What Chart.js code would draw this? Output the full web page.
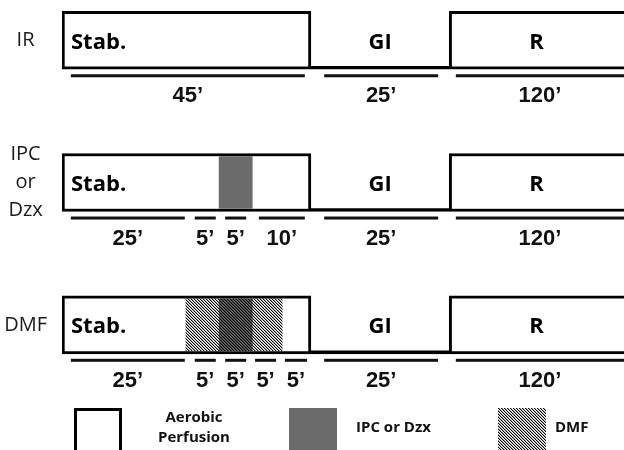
<!DOCTYPE html>
<html>
<head>
<meta charset="utf-8">
<script src="https://cdn.jsdelivr.net/npm/chart.js@4.4.1/dist/chart.umd.min.js"></script>
<style>
  html, body { margin: 0; padding: 0; background: #fff; }
  #protocol { display: block; }
</style>
</head>
<body>
<canvas id="protocol" width="624" height="450"></canvas>
<script>
// ---------- DATA ----------
const groups = [['IR'], ['IPC', 'or', 'Dzx'], ['DMF']];

const phaseNames = ['Stab.', 'GI', 'R'];
const phaseStart = [0, 45, 70];          // minutes
const phaseEnd = [45, 70, 190];
const phasePerfused = [true, false, true]; // GI = no flow

// treatment windows (minutes), null = none for that group
const greyWindow = [null, [28.4, 34.4], [28.4, 34.4]];
const dmfWindow = [null, null, [22.4, 39.8]];

// duration bars under each protocol, as drawn (minutes)
const segStart = [
  [1.6, 47.4, 71.2],
  [1.6, 24.0, 29.5, 35.6, 47.4, 71.2],
  [1.6, 24.0, 29.5, 34.9, 40.3, 47.4, 71.2]
];
const segEnd = [
  [43.9, 68.0, 190],
  [22.2, 27.8, 33.3, 43.9, 68.0, 190],
  [22.2, 27.8, 33.3, 38.7, 44.3, 68.0, 190]
];
const segMinutes = [
  [45, 25, 120],
  [25, 5, 5, 10, 25, 120],
  [25, 5, 5, 5, 5, 25, 120]
];

const legendLabels = [['Aerobic', 'Perfusion'], ['IPC or Dzx'], ['DMF']];

// ---------- STYLE ----------
const GREY = '#6b6b6b';
const BOX_H = 58;
const EDGE = 3;

// diagonal hatch, lines only (transparent between)
function makeHatch() {
  const c = document.createElement('canvas');
  c.width = 3; c.height = 3;
  const g = c.getContext('2d');
  const img = g.createImageData(3, 3);
  for (let py = 0; py < 3; py++) {
    for (let px = 0; px < 3; px++) {
      const d = ((px - py) % 3 + 3) % 3;
      const i = (py * 3 + px) * 4;
      img.data[i + 3] = d === 0 ? 255 : (d === 1 ? 90 : 0);
    }
  }
  g.putImageData(img, 0, 0);
  return g.createPattern(c, 'repeat');
}
const hatch = makeHatch();

// ---------- DATASETS ----------
const boxData = [];
const openData = [];
groups.forEach((_, g) => {
  phaseNames.forEach((_, p) => {
    const item = { x: [phaseStart[p], phaseEnd[p]], y: g };
    (phasePerfused[p] ? boxData : openData).push(item);
  });
});
const greyData = [];
const dmfData = [];
groups.forEach((_, g) => {
  if (greyWindow[g]) greyData.push({ x: greyWindow[g], y: g });
  if (dmfWindow[g]) dmfData.push({ x: dmfWindow[g], y: g });
});

// ---------- TEXT / SEGMENTS ----------
function drawLegend(ctx) {
  const top = 408, size = 48;
  ctx.fillStyle = '#fff';
  ctx.fillRect(74, top, size, size);
  ctx.lineWidth = EDGE;
  ctx.strokeStyle = '#000';
  ctx.strokeRect(75.5, top + 1.5, size - 3, size);

  ctx.fillStyle = GREY;
  ctx.fillRect(289, top, size, size);

  ctx.fillStyle = '#fff';
  ctx.fillRect(498, top, size, size);
  ctx.fillStyle = hatch;
  ctx.fillRect(498, top, size, size);

  ctx.fillStyle = '#111';
  ctx.font = 'bold 15px "Open Sans"';
  ctx.textBaseline = 'middle';
  ctx.textAlign = 'center';
  ctx.fillText(legendLabels[0][0], 194, 418);
  ctx.fillText(legendLabels[0][1], 194, 438);
  ctx.textAlign = 'left';
  ctx.fillText(legendLabels[1][0], 356, 428);
  ctx.fillText(legendLabels[2][0], 555, 428);
}

const protocolText = {
  id: 'protocolText',
  afterDatasetsDraw(chart) {
    const { ctx, scales: { x, y } } = chart;
    ctx.save();
    ctx.textBaseline = 'middle';
    groups.forEach((_, g) => {
      const yc = y.getPixelForValue(g);

      ctx.font = 'bold 22px "Open Sans"';
      ctx.fillStyle = '#000';
      phaseNames.forEach((name, p) => {
        const l = x.getPixelForValue(phaseStart[p]);
        const r = Math.min(x.getPixelForValue(phaseEnd[p]), x.right);
        if (p === 0) {
          ctx.textAlign = 'left';
          ctx.fillText(name, l + 9, yc + 2);
        } else {
          ctx.textAlign = 'center';
          ctx.fillText(name, (l + r) / 2, yc + 2);
        }
      });

      ctx.fillStyle = '#111';
      ctx.font = 'bold 22px "Liberation Sans"';
      ctx.textAlign = 'center';
      segStart[g].forEach((s, k) => {
        const l = x.getPixelForValue(s);
        const r = Math.min(x.getPixelForValue(segEnd[g][k]), x.right);
        ctx.fillRect(l, yc + 34, r - l, 3);
        ctx.fillText(segMinutes[g][k] + '\u2019', (l + r) / 2, yc + 56);
      });
    });
    drawLegend(ctx);
    ctx.restore();
  }
};

// ---------- CHART ----------
const common = { grouped: false, borderSkipped: false };

new Chart(document.getElementById('protocol'), {
  type: 'bar',
  data: {
    datasets: [
      { ...common, label: 'Aerobic perfusion', data: boxData, order: 3,
        backgroundColor: '#fff', borderColor: '#000', borderWidth: EDGE, barThickness: BOX_H },
      { ...common, label: 'Global ischemia', data: openData, order: 3,
        backgroundColor: 'rgba(0,0,0,0)', borderColor: '#000',
        borderWidth: { top: 0, right: 0, bottom: EDGE, left: 0 }, barThickness: BOX_H },
      { ...common, label: 'IPC or Dzx', data: greyData, order: 2,
        backgroundColor: GREY, borderWidth: 0, barThickness: BOX_H - 2 * EDGE },
      { ...common, label: 'DMF', data: dmfData, order: 1,
        backgroundColor: hatch, borderWidth: 0, barThickness: BOX_H - 2 * EDGE }
    ]
  },
  options: {
    indexAxis: 'y',
    responsive: false,
    devicePixelRatio: 1,
    animation: false,
    layout: { padding: 0 },
    plugins: { legend: { display: false }, tooltip: { enabled: false } },
    scales: {
      x: { type: 'linear', display: false, min: 0, max: 101.6 },
      y: {
        type: 'linear',
        offset: false,
        reverse: true,
        min: -0.283,
        max: 2.88,
        grid: { display: false, offset: false },
        border: { display: false },
        afterBuildTicks: (s) => { s.ticks = groups.map((_, i) => ({ value: i })); },
        afterFit: (s) => {
          s.width = 62;
          s.paddingTop = 0; s.paddingBottom = 0;
          s.paddingLeft = 0; s.paddingRight = 0;
        },
        ticks: {
          autoSkip: false,
          crossAlign: 'center',
          padding: 7,
          color: '#1a1a1a',
          font: { family: '"Open Sans"', size: 20, lineHeight: 1.4 },
          callback: (v) => groups[v]
        }
      }
    }
  },
  plugins: [protocolText]
});
</script>
</body>
</html>
